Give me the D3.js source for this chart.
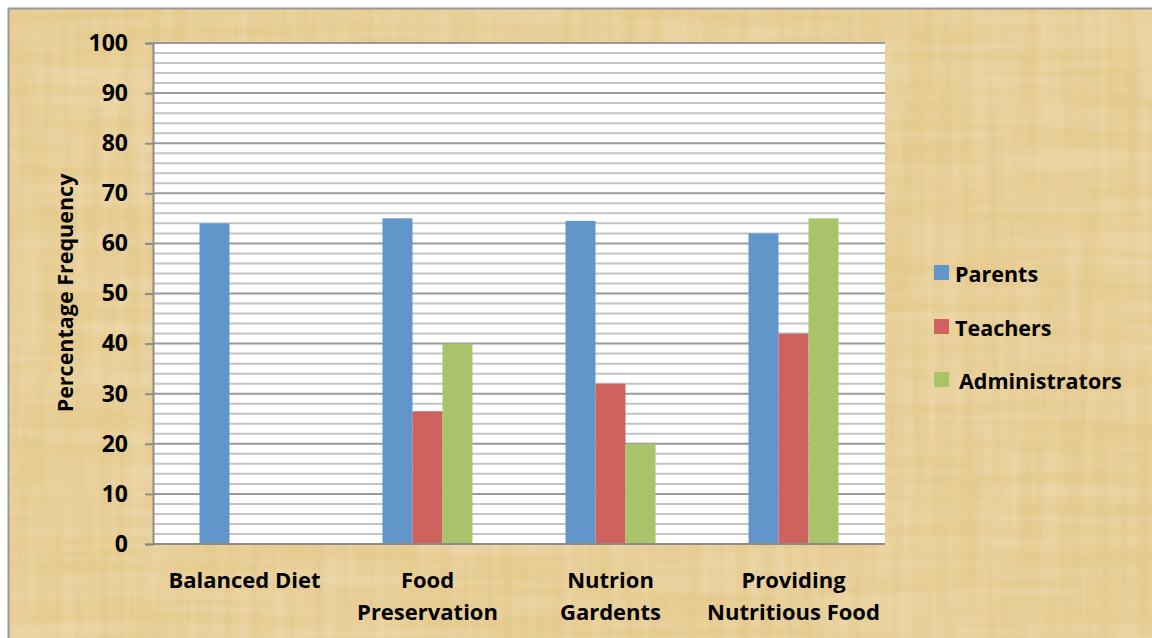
<!DOCTYPE html>
<html>
<head>
<meta charset="utf-8">
<script src="https://cdn.jsdelivr.net/npm/d3@7"></script>
<style>
  html, body { margin: 0; padding: 0; background: #fff; }
  svg { display: block; }
  text { font-family: "Open Sans", sans-serif; font-weight: bold; fill: #000; }
</style>
</head>
<body>
<div id="chart"></div>
<script>
// 数据
const categories = [["Balanced Diet"], ["Food", "Preservation"], ["Nutrion", "Gardents"], ["Providing", "Nutritious Food"]]
const series = ["Parents", "Teachers", "Administrators"]
const parents = [64, 65, 64.5, 62]
const teachers = [0, 26.5, 32, 42]
const administrators = [0, 40, 20, 65]
const yTicks = [0, 10, 20, 30, 40, 50, 60, 70, 80, 90, 100]
const colors = ["#6096ca", "#cd625e", "#a8c36a"]

const width = 1152, height = 638
const margin = {left: 153, right: 1152 - 885, top: 43, bottom: 638 - 544}

const svg = d3.select("#chart").append("svg")
    .attr("width", width)
    .attr("height", height)

// 羊皮纸背景纹理
const defs = svg.append("defs")
const f = defs.append("filter").attr("id", "paper")
    .attr("x", 0).attr("y", 0).attr("width", "100%").attr("height", "100%")
f.append("feTurbulence").attr("type", "fractalNoise")
    .attr("baseFrequency", "0.005 0.08").attr("numOctaves", 3).attr("seed", 3).attr("result", "h")
f.append("feTurbulence").attr("type", "fractalNoise")
    .attr("baseFrequency", "0.08 0.005").attr("numOctaves", 3).attr("seed", 8).attr("result", "v")
f.append("feComposite").attr("in", "h").attr("in2", "v")
    .attr("operator", "arithmetic").attr("k2", 0.5).attr("k3", 0.5).attr("result", "n")
f.append("feColorMatrix").attr("in", "n").attr("type", "matrix")
    .attr("values", "0 0 0 0 1  0 0 0 0 0.95  0 0 0 0 0.8  0 0 0 -0.6 0.38")
    .attr("result", "light")
f.append("feComposite").attr("in", "light").attr("in2", "SourceGraphic").attr("operator", "atop")

svg.append("rect")
    .attr("x", 8).attr("y", 8)
    .attr("width", width - 8).attr("height", height - 8)
    .attr("fill", "#e6cb8f")
svg.append("rect")
    .attr("x", 8).attr("y", 8)
    .attr("width", width - 8).attr("height", height - 8)
    .attr("fill", "#e6cb8f")
    .attr("filter", "url(#paper)")
// 外框
svg.append("line").attr("x1", 8).attr("x2", width).attr("y1", 8.5).attr("y2", 8.5)
    .attr("stroke", "#999").attr("stroke-width", 2)
svg.append("line").attr("x1", 8.5).attr("x2", 8.5).attr("y1", 8).attr("y2", height)
    .attr("stroke", "#999").attr("stroke-width", 2)

const x0 = d3.scaleBand()
    .domain(d3.range(categories.length))
    .range([margin.left, width - margin.right])
const x1 = d3.scaleBand()
    .domain(series)
    .range([0, 90])
const y = d3.scaleLinear()
    .domain([0, 100])
    .range([height - margin.bottom, margin.top])

// 绘图区
svg.append("rect")
    .attr("x", margin.left).attr("y", margin.top)
    .attr("width", width - margin.left - margin.right)
    .attr("height", height - margin.top - margin.bottom)
    .attr("fill", "#fff")

// 网格线
svg.append("g")
    .selectAll("line")
    .data(d3.range(2, 100, 2).filter(v => v % 10 != 0))
    .enter().append("line")
    .attr("x1", margin.left).attr("x2", width - margin.right)
    .attr("y1", d => y(d)).attr("y2", d => y(d))
    .attr("stroke", "#c4c4c4").attr("stroke-width", 2)
svg.append("g")
    .selectAll("line")
    .data(yTicks.filter(v => v > 0))
    .enter().append("line")
    .attr("x1", margin.left).attr("x2", width - margin.right)
    .attr("y1", d => y(d)).attr("y2", d => y(d))
    .attr("stroke", "#9a9a9a").attr("stroke-width", 2)

// 柱子
const values = [parents, teachers, administrators]
const groups = svg.append("g")
    .selectAll("g")
    .data(categories.map((c, i) => i))
    .enter().append("g")
    .attr("transform", i => `translate(${x0(i) + x0.bandwidth() / 2 - 45},0)`)
groups.selectAll("rect")
    .data(i => series.map((s, k) => ({s, k, v: values[k][i]})).filter(d => d.v > 0))
    .enter().append("rect")
    .attr("x", d => x1(d.s))
    .attr("width", x1.bandwidth())
    .attr("y", d => y(d.v))
    .attr("height", d => y(0) - y(d.v))
    .attr("fill", d => colors[d.k])

// Y轴
const yAxis = svg.append("g")
    .attr("transform", `translate(${margin.left},0)`)
    .call(d3.axisLeft(y).tickValues(yTicks).tickSize(8).tickPadding(17))
yAxis.select(".domain").attr("stroke", "#8c8c8c").attr("stroke-width", 2)
yAxis.selectAll(".tick line").attr("stroke", "#8c8c8c").attr("stroke-width", 2)
yAxis.selectAll("text")
    .style("font-size", "23px")
    .style("font-family", "'Open Sans', sans-serif")
    .style("font-weight", "bold")
    .attr("fill", "#000")

// X轴线
svg.append("line")
    .attr("x1", margin.left).attr("x2", width - margin.right)
    .attr("y1", y(0)).attr("y2", y(0))
    .attr("stroke", "#8c8c8c").attr("stroke-width", 2)

// 分类标签
const catLabels = svg.append("g")
    .selectAll("text")
    .data(categories)
    .enter().append("text")
    .attr("x", (d, i) => x0(i) + x0.bandwidth() / 2)
    .attr("y", 588)
    .attr("text-anchor", "middle")
    .style("font-size", "22px")
catLabels.selectAll("tspan")
    .data(d => d)
    .enter().append("tspan")
    .attr("x", function() { return d3.select(this.parentNode).attr("x") })
    .attr("dy", (d, i) => i == 0 ? 0 : 32)
    .text(d => d)

// Y轴标题
svg.append("text")
    .attr("transform", "translate(73,293) rotate(-90)")
    .attr("text-anchor", "middle")
    .style("font-size", "21.5px")
    .text("Percentage Frequency")

// 图例
const legendY = [273, 327, 380]
const legendX = [955, 955, 959]
const legend = svg.append("g")
    .selectAll("g")
    .data(series)
    .enter().append("g")
legend.append("rect")
    .attr("x", 934).attr("y", (d, i) => legendY[i] - 8)
    .attr("width", 15).attr("height", 15)
    .attr("fill", (d, i) => colors[i])
legend.append("text")
    .attr("x", (d, i) => legendX[i]).attr("y", (d, i) => legendY[i] + 9)
    .style("font-size", "21.5px")
    .text(d => d)
</script>
</body>
</html>
